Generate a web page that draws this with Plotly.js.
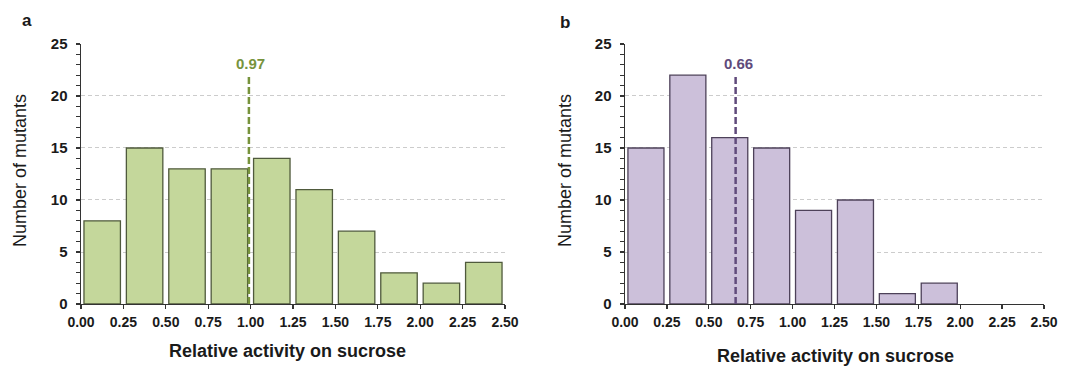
<!DOCTYPE html>
<html>
<head>
<meta charset="utf-8">
<script src="https://cdn.plot.ly/plotly-3.0.1.min.js"></script>
<style>
  html, body { margin: 0; padding: 0; background: #ffffff; }
  #chart { width: 1065px; height: 366px; }
</style>
</head>
<body>
<div id="chart"></div>
<script>
// ---- data ----
const binStarts = [0.00, 0.25, 0.50, 0.75, 1.00, 1.25, 1.50, 1.75, 2.00, 2.25];
const binWidth = 0.25;
const countsA = [8, 15, 13, 13, 14, 11, 7, 3, 2, 4];
const countsB = [15, 22, 16, 15, 9, 10, 1, 2, 0, 0];
const meanLabels = ['0.97', '0.66'];
const meanPositions = [0.99, 0.66];
const meanLineTop = 22;
const panelLetters = ['a', 'b'];
const xTitle = 'Relative activity on sucrose';
const yTitle = 'Number of mutants';

const centers = binStarts.map(s => s + binWidth / 2);

const FONT = 'Liberation Sans, Arial, sans-serif';
const greenFill = '#c4d79b', greenLine = '#4f5a3c', greenMean = '#77933c';
const purpleFill = '#ccc0da', purpleLine = '#4d4159', purpleMean = '#604a7b';

// empty bins draw no outline
const outlineWidths = counts => counts.map(v => (v > 0 ? 1.3 : 0));

const traces = [
  { type: 'bar', x: centers, y: countsA, xaxis: 'x', yaxis: 'y',
    marker: { color: greenFill, line: { color: greenLine, width: outlineWidths(countsA) } },
    hoverinfo: 'x+y', showlegend: false },
  { type: 'bar', x: centers, y: countsB, xaxis: 'x2', yaxis: 'y2',
    marker: { color: purpleFill, line: { color: purpleLine, width: outlineWidths(countsB) } },
    hoverinfo: 'x+y', showlegend: false },
  { type: 'scatter', mode: 'lines', x: [meanPositions[0], meanPositions[0]], y: [0, meanLineTop],
    xaxis: 'x', yaxis: 'y', line: { color: greenMean, width: 2.5, dash: '7px,3px' },
    showlegend: false, hoverinfo: 'skip' },
  { type: 'scatter', mode: 'lines', x: [meanPositions[1], meanPositions[1]], y: [0, meanLineTop],
    xaxis: 'x2', yaxis: 'y2', line: { color: purpleMean, width: 2.5, dash: '7px,3px' },
    showlegend: false, hoverinfo: 'skip' }
];

function xAxis(domain, anchor) {
  return {
    domain: domain, anchor: anchor, range: [0, 2.5], dtick: 0.25, tick0: 0,
    tickformat: '.2f', ticks: 'outside', ticklen: 4, tickwidth: 1.3, tickcolor: '#333',
    showline: true, linecolor: '#333', linewidth: 1.5, showgrid: false, zeroline: false,
    tickfont: { family: FONT, size: 14, color: '#1a1a1a', weight: 'bold' },
    ticklabelstandoff: 1,
    fixedrange: true
  };
}
function yAxis(anchor) {
  return {
    domain: [0.1694, 0.8798], anchor: anchor, range: [0, 25], dtick: 5, tick0: 0,
    ticks: 'outside', ticklen: 4, tickwidth: 1.3, tickcolor: '#333',
    minor: { dtick: 1, ticks: 'outside', ticklen: 4, tickwidth: 1.1, tickcolor: '#333', showgrid: false },
    showline: true, linecolor: '#333', linewidth: 1.5,
    showgrid: true, gridcolor: '#cccccc', gridwidth: 1, griddash: '4px,3px', zeroline: false,
    tickfont: { family: FONT, size: 15, color: '#1a1a1a', weight: 'bold' },
    ticklabelstandoff: 5,
    fixedrange: true
  };
}

const layout = {
  width: 1065, height: 366,
  margin: { l: 0, r: 0, t: 0, b: 0 },
  paper_bgcolor: '#ffffff', plot_bgcolor: '#ffffff',
  bargap: 0.14,
  showlegend: false,
  xaxis: xAxis([81 / 1065, 505 / 1065], 'y'),
  yaxis: yAxis('x'),
  xaxis2: xAxis([625 / 1065, 1044 / 1065], 'y2'),
  yaxis2: yAxis('x2'),
  annotations: [
    { xref: 'x', yref: 'y', x: meanPositions[0], y: meanLineTop, text: meanLabels[0],
      showarrow: false, yanchor: 'bottom', xshift: 2, yshift: 1,
      font: { family: FONT, size: 15, color: greenMean, weight: 'bold' } },
    { xref: 'x2', yref: 'y2', x: meanPositions[1], y: meanLineTop, text: meanLabels[1],
      showarrow: false, yanchor: 'bottom', xshift: 3, yshift: 1,
      font: { family: FONT, size: 15, color: purpleMean, weight: 'bold' } },
    { xref: 'paper', yref: 'paper', x: 288 / 1065, y: 1 - 351 / 366, text: xTitle,
      showarrow: false, xanchor: 'center', yanchor: 'middle',
      font: { family: FONT, size: 18, color: '#1a1a1a', weight: 'bold' } },
    { xref: 'paper', yref: 'paper', x: 835 / 1065, y: 1 - 356 / 366, text: xTitle,
      showarrow: false, xanchor: 'center', yanchor: 'middle',
      font: { family: FONT, size: 18, color: '#1a1a1a', weight: 'bold' } },
    { xref: 'paper', yref: 'paper', x: 20 / 1065, y: 1 - 171 / 366, text: yTitle,
      showarrow: false, xanchor: 'center', yanchor: 'middle', textangle: -90,
      font: { family: FONT, size: 18, color: '#1a1a1a' } },
    { xref: 'paper', yref: 'paper', x: 565 / 1065, y: 1 - 171 / 366, text: yTitle,
      showarrow: false, xanchor: 'center', yanchor: 'middle', textangle: -90,
      font: { family: FONT, size: 18, color: '#1a1a1a' } },
    { xref: 'paper', yref: 'paper', x: 27 / 1065, y: 1 - 21 / 366, text: panelLetters[0],
      showarrow: false, xanchor: 'center', yanchor: 'middle',
      font: { family: FONT, size: 17, color: '#1a1a1a', weight: 'bold' } },
    { xref: 'paper', yref: 'paper', x: 565 / 1065, y: 1 - 23 / 366, text: panelLetters[1],
      showarrow: false, xanchor: 'center', yanchor: 'middle',
      font: { family: FONT, size: 17, color: '#1a1a1a', weight: 'bold' } }
  ]
};

Plotly.newPlot('chart', traces, layout, { displayModeBar: false, staticPlot: true });
</script>
</body>
</html>
